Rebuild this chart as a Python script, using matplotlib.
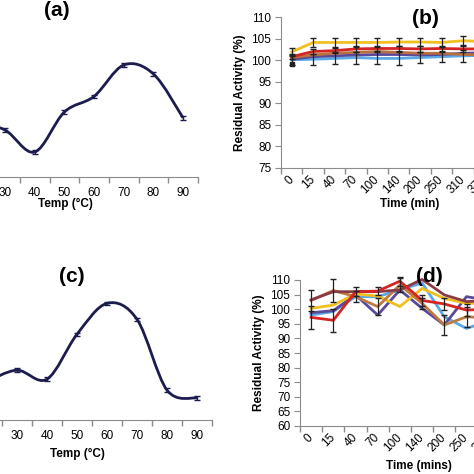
import numpy as np
import matplotlib
matplotlib.use("Agg")
from matplotlib import pyplot as plt
from matplotlib.path import Path
from matplotlib.patches import PathPatch

plt.rcParams['font.family'] = ['Liberation Sans', 'DejaVu Sans']

# ---- data ----
temp = ['20', '30', '40', '50', '60', '70', '80', '90']
act_a = [49, 42, 22.3, 58, 72, 100, 92, 52.7]
err_a = [1.5, 1.5, 1.5, 1.5, 1.5, 1.5, 1.5, 1.5]
act_c = [33, 42.7, 35, 73.5, 100, 86.3, 25.6, 18.8]
err_c = [1.5, 1.5, 1.5, 1.5, 1.5, 1.5, 1.5, 1.5]

time_b = ['0', '15', '40', '70', '100', '140', '200', '250', '310', '370']
b_yellow = [101.9, 104.1, 104.1, 104.1, 104.1, 104.2, 104.2, 104.1, 104.5, 104.3]
b_red = [100.8, 102.0, 102.2, 102.6, 102.7, 102.7, 102.6, 102.7, 102.6, 102.6]
b_brown = [100.6, 101.2, 101.6, 101.8, 102.0, 101.8, 101.6, 101.6, 101.3, 101.2]
b_purple = [100.2, 100.8, 101.0, 101.2, 101.3, 101.3, 101.2, 101.3, 101.6, 101.7]
b_blue = [100.1, 100.2, 100.4, 100.6, 100.4, 100.4, 100.6, 100.8, 101.0, 101.1]
b_err_top = [1.0, 1.0, 1.0, 1.0, 1.0, 1.0, 1.0, 1.0, 1.0, 1.0]
b_err_low = [1.2, 1.3, 1.4, 1.4, 1.4, 1.6, 1.2, 1.2, 1.4, 1.2]

time_d = ['0', '15', '40', '70', '100', '140', '200', '250', '310']
d_red = [97.2, 96.2, 106.0, 106.2, 109.6, 103.0, 101.8, 99.7, 100.0]
d_maroon = [103.2, 106.0, 106.0, 106.0, 106.6, 110.2, 104.9, 102.6, 103.0]
d_orange = [103.0, 106.4, 104.3, 100.9, 108.3, 102.0, 94.6, 97.4, 97.0]
d_yellow = [100.3, 101.4, 105.2, 104.5, 100.9, 107.1, 103.7, 102.0, 102.0]
d_purple = [98.8, 99.5, 104.9, 98.0, 106.6, 100.3, 94.6, 104.3, 103.0]
d_blue = [98.0, 99.2, 104.3, 104.3, 106.6, 109.0, 97.4, 93.4, 96.0]
d_err_red = [4.0, 4.0, 1.5, 1.5, 1.5, 2.0, 2.0, 2.0, 2.0]
d_err_orange = [3.5, 4.0, 2.0, 3.0, 2.5, 2.0, 3.5, 3.5, 2.0]

W = 474.0
navy = '#1c1c4e'
gray = '#8c8c8c'


def px(x, y):
    return x / W, 1 - y / W


def box(left, top, right, bottom):
    return [left / W, 1 - bottom / W, (right - left) / W, (bottom - top) / W]


def smooth_path(xs, ys):
    # Excel-style smoothed line as cubic Bezier segments
    pts = np.column_stack([xs, ys]).astype(float)
    n = len(pts)
    verts = [pts[0]]
    codes = [Path.MOVETO]
    for i in range(n - 1):
        p0 = pts[i - 1] if i > 0 else pts[i]
        p1, p2 = pts[i], pts[i + 1]
        p3 = pts[i + 2] if i + 2 < n else pts[i + 1]
        c1 = p1 + (p2 - p0) / 6.0
        c2 = p2 - (p3 - p1) / 6.0
        verts += [c1, c2, p2]
        codes += [Path.CURVE4] * 3
    return Path(verts, codes)


def category_axis(ax, labels, rot=0):
    n = len(labels)
    ax.set_xlim(-0.5, n - 0.5)
    ax.set_xticks(np.arange(n))
    ax.set_xticklabels(labels)
    ax.set_xticks(np.arange(n + 1) - 0.5, minor=True)
    ax.tick_params(axis='x', which='major', length=0, labelsize=8.5, pad=7)
    ax.tick_params(axis='x', which='minor', length=4, color=gray, width=1)
    if rot:
        for t in ax.get_xticklabels():
            t.set_rotation(45)
            t.set_ha('right')
            t.set_va('center')
            t.set_rotation_mode('anchor')
    for s in ['top', 'right']:
        ax.spines[s].set_visible(False)
    ax.spines['bottom'].set_color(gray)
    ax.spines['left'].set_color(gray)


fig = plt.figure(figsize=(4.74, 4.74), dpi=100)

# ---- (a) ----
ax = fig.add_axes(box(-39.6, 42.6, 198, 177))
category_axis(ax, temp)
ax.set_ylim(0, 120)
ax.spines['left'].set_visible(False)
ax.set_yticks([])
x = np.arange(len(temp))
ax.add_patch(PathPatch(smooth_path(x, act_a), fill=False, ec=navy, lw=2.0))
ax.errorbar(x, act_a, yerr=err_a, fmt='none', ecolor=navy, elinewidth=1, capsize=2.5)
fig.text(*px(57, 11), '(a)', fontsize=15, fontweight='bold', ha='center', va='center')
fig.text(*px(65, 204), 'Temp (°C)', fontsize=8.5, fontweight='bold', ha='center', va='center')

# ---- (c) ----
ax = fig.add_axes(box(-28, 280, 212, 420))
category_axis(ax, temp)
ax.set_ylim(0, 120)
ax.spines['left'].set_visible(False)
ax.set_yticks([])
ax.add_patch(PathPatch(smooth_path(x, act_c), fill=False, ec=navy, lw=2.0))
ax.errorbar(x, act_c, yerr=err_c, fmt='none', ecolor=navy, elinewidth=1, capsize=2.5)
fig.text(*px(72, 277), '(c)', fontsize=15, fontweight='bold', ha='center', va='center')
fig.text(*px(77, 454), 'Temp (°C)', fontsize=8.5, fontweight='bold', ha='center', va='center')

# ---- (b) ----
ax = fig.add_axes(box(281, 17, 281 + 10 * 21.4, 168))
category_axis(ax, time_b, rot=45)
ax.set_ylim(75, 110)
ax.set_yticks(np.arange(75, 111, 5))
ax.tick_params(axis='y', length=4, color=gray, labelsize=8.5, pad=3)
xb = np.arange(len(time_b))
ax.plot(xb, b_blue, color='#5aa9e6', lw=2)
ax.plot(xb, b_purple, color='#5b4a9a', lw=2)
ax.plot(xb, b_brown, color='#b8703e', lw=2)
ax.plot(xb, b_red, color='#d42424', lw=2)
ax.plot(xb, b_yellow, color='#f0c020', lw=2)
ax.errorbar(xb, b_yellow, yerr=b_err_top, fmt='none', ecolor='#222222', elinewidth=0.9, capsize=2.5)
ax.errorbar(xb, b_blue, yerr=b_err_low, fmt='none', ecolor='#222222', elinewidth=0.9, capsize=2.5)
ax.errorbar(xb, b_red, yerr=0.6, fmt='none', ecolor='#222222', elinewidth=0.9, capsize=2)
ax.plot(xb[:1], [99.2], 's', color='#222222', ms=3)
ax.set_ylabel('Residual Activity (%)', fontsize=8.5, fontweight='bold', labelpad=4)
fig.text(*px(425, 18), '(b)', fontsize=15, fontweight='bold', ha='center', va='center')
fig.text(*px(410, 204), 'Time (min)', fontsize=8.5, fontweight='bold', ha='center', va='center')

# ---- (d) ----
ax = fig.add_axes(box(300, 280, 300 + 9 * 22.2, 426))
category_axis(ax, time_d, rot=45)
ax.set_ylim(60, 110)
ax.set_yticks(np.arange(60, 111, 5))
ax.tick_params(axis='y', length=4, color=gray, labelsize=8.5, pad=3)
xd = np.arange(len(time_d))
ax.plot(xd, d_blue, color='#5aa9e6', lw=2, clip_on=False)
ax.plot(xd, d_purple, color='#5b4a9a', lw=2, clip_on=False)
ax.plot(xd, d_yellow, color='#f0c020', lw=2, clip_on=False)
ax.plot(xd, d_orange, color='#c07a40', lw=2, clip_on=False)
ax.plot(xd, d_maroon, color='#8a3c46', lw=2, clip_on=False)
ax.plot(xd, d_red, color='#d42424', lw=2, clip_on=False)
ax.errorbar(xd, d_red, yerr=d_err_red, fmt='none', ecolor='#222222', elinewidth=0.9, capsize=2.5, clip_on=False)
ax.errorbar(xd, d_orange, yerr=d_err_orange, fmt='none', ecolor='#222222', elinewidth=0.9, capsize=2.5, clip_on=False)
ax.set_ylabel('Residual Activity (%)', fontsize=8.5, fontweight='bold', labelpad=4)
fig.text(*px(429, 277), '(d)', fontsize=15, fontweight='bold', ha='center', va='center')
fig.text(*px(419, 466), 'Time (mins)', fontsize=8.5, fontweight='bold', ha='center', va='center')

fig.savefig('out.png', dpi=100)
